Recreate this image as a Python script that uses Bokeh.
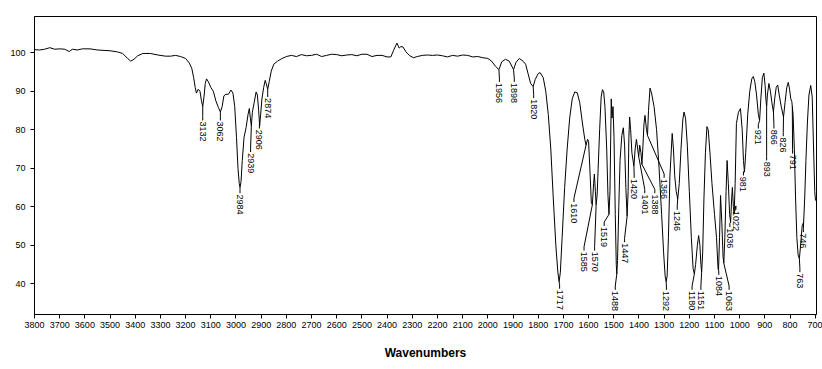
import numpy as np
from bokeh.plotting import figure
from bokeh.models import Range1d, FixedTicker, ColumnDataSource
from bokeh.core.properties import value
from bokeh.embed import file_html
from bokeh.resources import INLINE

# ---- spectrum data (wavenumber cm-1, %T) ----
wavenumber = [
    3800, 3780, 3760, 3739, 3720, 3700, 3680, 3662, 3650, 3630, 3610, 3580, 3550, 3500, 3470,
    3450, 3430, 3418, 3405, 3390, 3370, 3340, 3310, 3280, 3260, 3240, 3220, 3200, 3185, 3175,
    3168, 3162, 3157, 3150, 3143, 3137, 3132, 3127, 3122, 3117, 3110, 3100, 3090, 3080, 3070,
    3062, 3055, 3048, 3040, 3030, 3020, 3012, 3005, 2998, 2992, 2987, 2984, 2980, 2975, 2968,
    2960, 2952, 2947, 2943, 2939, 2935, 2928, 2920, 2915, 2910, 2906, 2902, 2897, 2890, 2884,
    2880, 2874, 2868, 2860, 2850, 2835, 2820, 2800, 2780, 2760, 2740, 2720, 2700, 2680, 2660,
    2640, 2620, 2600, 2580, 2560, 2540, 2520, 2500, 2480, 2460, 2440, 2420, 2400, 2385, 2375,
    2361, 2352, 2345, 2337, 2325, 2310, 2295, 2280, 2260, 2240, 2220, 2200, 2180, 2160, 2140,
    2120, 2100, 2080, 2060, 2040, 2020, 2000, 1985, 1970, 1956, 1945, 1930, 1915, 1898, 1888,
    1875, 1860, 1850, 1840, 1830, 1820, 1812, 1800, 1792, 1780, 1770, 1760, 1750, 1740, 1730,
    1722, 1717, 1712, 1705, 1695, 1685, 1675, 1665, 1655, 1645, 1635, 1625, 1615, 1610, 1604,
    1600, 1595, 1589, 1585, 1580, 1577, 1573, 1570, 1566, 1562, 1556, 1550, 1545, 1540, 1535,
    1528, 1523, 1519, 1515, 1510, 1507, 1503, 1499, 1494, 1490, 1488, 1485, 1480, 1475, 1468,
    1462, 1457, 1452, 1447, 1443, 1440, 1437, 1433, 1428, 1420, 1415, 1410, 1405, 1401, 1397,
    1392, 1388, 1384, 1380, 1376, 1370, 1366, 1362, 1356, 1350, 1340, 1330, 1320, 1310, 1302,
    1296, 1292, 1288, 1283, 1277, 1268, 1263, 1258, 1252, 1246, 1240, 1233, 1226, 1221, 1215,
    1208, 1200, 1192, 1185, 1180, 1175, 1168, 1163, 1158, 1154, 1151, 1147, 1142, 1136, 1130,
    1125, 1118, 1110, 1100, 1092, 1086, 1084, 1080, 1076, 1071, 1066, 1063, 1059, 1054, 1050,
    1045, 1040, 1036, 1032, 1029, 1025, 1022, 1018, 1013, 1005, 997, 990, 985, 981, 976,
    968, 960, 952, 946, 940, 933, 926, 921, 916, 910, 904, 899, 896, 893, 890,
    884, 878, 872, 866, 861, 855, 849, 843, 835, 826, 820, 813, 807, 802, 797,
    793, 788, 783, 778, 773, 768, 763, 758, 752, 746, 742, 737, 731, 725, 718,
    712, 707, 702, 699,
]
transmittance = [
    100.8, 100.7, 100.9, 101.3, 100.9, 101.0, 100.9, 100.3, 100.9, 100.7, 101.0, 101.0, 100.7, 100.5, 100.2,
    99.8, 98.5, 97.8, 98.3, 99.2, 99.8, 99.8, 99.4, 99.1, 99.1, 99.3, 99.0, 98.5, 97.3, 95.8,
    93.5, 91.0, 89.5, 90.5, 90.0, 87.5, 86.0, 88.5, 92.0, 93.2, 92.5, 91.0, 90.0, 87.5, 85.8,
    84.6, 86.0, 88.8, 89.2, 89.2, 90.3, 89.5, 86.0, 78.0, 70.0, 66.0, 65.0, 66.5, 72.0, 78.0,
    80.5, 84.0, 85.5, 83.0, 81.0, 84.5, 87.0, 89.8, 89.0, 85.0, 81.0, 84.0, 88.0, 91.0, 92.8,
    92.0, 90.5, 92.5, 95.2, 97.0, 97.8, 98.4, 99.0, 99.3, 99.0, 99.5, 99.2, 99.3, 99.6, 99.0,
    99.3, 99.6, 99.5, 99.2, 99.4, 99.5, 99.2, 99.6, 99.6, 99.0, 99.3, 99.3, 98.9, 98.9, 100.5,
    102.5, 101.2, 101.6, 101.5, 100.2, 99.2, 98.7, 99.0, 99.3, 99.4, 99.3, 99.4, 99.2, 98.9, 99.3,
    99.1, 99.4, 99.3, 98.9, 99.0, 98.7, 98.5, 97.8, 96.5, 95.6, 97.6, 98.3, 97.8, 95.6, 97.5,
    98.5, 97.8, 97.0, 94.5, 92.0, 91.2, 93.0, 94.6, 94.8, 93.5, 90.0, 84.0, 75.0, 62.0, 50.0,
    43.0, 40.5, 43.0, 52.0, 65.0, 75.0, 83.0, 88.0, 89.8, 89.6, 87.0, 82.0, 77.5, 76.0, 77.5,
    77.0, 70.0, 61.0, 60.5, 66.0, 68.5, 64.0, 60.5, 63.0, 70.0, 80.0, 88.5, 90.4, 89.8, 86.0,
    75.0, 63.0, 58.0, 64.0, 88.0, 83.0, 86.0, 78.0, 58.0, 45.0, 42.5, 46.0, 60.0, 72.0, 78.5,
    80.5, 76.0, 65.0, 57.5, 64.0, 78.0, 83.3, 80.0, 74.0, 70.5, 75.0, 77.5, 75.0, 73.0, 76.0,
    74.0, 71.0, 76.0, 81.5, 83.7, 80.0, 78.5, 85.0, 90.8, 89.5, 86.0, 80.0, 70.0, 58.0, 48.0,
    42.0, 40.5, 42.0, 52.0, 68.0, 79.0, 75.0, 68.0, 64.0, 62.0, 66.0, 75.0, 82.5, 84.6, 83.0,
    76.0, 64.0, 52.0, 44.0, 42.5, 45.0, 50.0, 52.5, 50.0, 45.0, 43.0, 48.0, 62.0, 74.0, 80.8,
    80.0, 74.0, 66.0, 58.0, 52.0, 44.0, 43.5, 52.0, 62.9, 56.0, 47.0, 45.3, 52.0, 64.0, 72.0,
    66.0, 58.0, 56.0, 62.0, 65.0, 60.0, 58.2, 66.0, 81.6, 84.5, 85.5, 80.0, 72.0, 69.0, 74.0,
    84.0, 90.0, 93.2, 93.8, 92.5, 89.0, 84.0, 82.4, 88.0, 93.5, 94.7, 91.5, 88.0, 86.0, 89.0,
    92.0, 90.0, 87.0, 84.6, 88.0, 91.0, 91.6, 89.0, 86.0, 83.3, 87.0, 91.0, 92.3, 90.5, 88.0,
    87.3, 84.0, 75.0, 62.0, 52.0, 47.5, 46.5, 50.0, 55.0, 56.0, 62.0, 72.0, 82.0, 89.0, 91.5,
    88.5, 76.0, 64.0, 61.6,
]

# ---- peak annotations ----
peak_labels = [3132, 3062, 2984, 2939, 2906, 2874, 1956, 1898, 1820, 1717, 1610, 1585, 1570,
               1519, 1488, 1447, 1420, 1401, 1388, 1366, 1292, 1246, 1180, 1151, 1084, 1063,
               1036, 1022, 981, 921, 893, 866, 826, 791, 763, 746]
# label anchor (layout): wavenumber of label column, %T where the text starts
label_x = [3132, 3062, 2984, 2942, 2907, 2874, 1954, 1895, 1818, 1715, 1658, 1618, 1576,
           1538, 1494, 1457, 1419, 1377, 1337, 1300, 1291, 1248, 1189, 1154, 1083, 1042,
           1039, 1015, 985, 926, 893, 864, 827, 790, 761, 747]
label_y = [82.4, 82.4, 63.5, 74.2, 80.3, 88.5, 92.4, 92.4, 88.2, 38.7, 61.2, 48.6, 48.6,
           55.0, 38.4, 50.8, 67.5, 63.5, 63.5, 67.5, 38.4, 59.2, 38.4, 38.4, 42.3, 38.4,
           54.7, 59.2, 68.1, 80.3, 72.0, 80.3, 78.3, 73.8, 43.0, 53.4]

x_ticks = list(range(700, 3801, 100))
y_ticks = [40, 50, 60, 70, 80, 90, 100]

FONT = "Liberation Sans"

p = figure(width=822, height=369, output_backend="svg", toolbar_location=None,
           x_range=Range1d(3800, 695), y_range=Range1d(32, 109.4),
           min_border_left=34, min_border_right=6, min_border_top=16, min_border_bottom=55)

p.line(wavenumber, transmittance, line_color="black", line_width=1)

# leader lines from the curve to the label
peak_vals = np.interp(peak_labels, wavenumber[::-1], transmittance[::-1])
xs = [[b, lx, lx] for b, lx in zip(peak_labels, label_x)]
ys = [[v, ly + 1.0, ly] for v, ly in zip(peak_vals, label_y)]
p.multi_line(xs, ys, line_color="black", line_width=1)

src = ColumnDataSource(dict(x=label_x, y=[ly - 0.3 for ly in label_y],
                            t=[str(v) for v in peak_labels]))
p.text(x="x", y="y", text="t", source=src, angle=-np.pi / 2,
       text_align="left", text_baseline="middle",
       text_font=value(FONT), text_font_size=value("9px"), text_color="black")

p.xgrid.visible = False
p.ygrid.visible = False
p.outline_line_color = "black"
p.outline_line_width = 1

for ax in (p.xaxis[0], p.yaxis[0]):
    ax.axis_line_color = "black"
    ax.major_tick_line_color = "black"
    ax.major_tick_in = 0
    ax.major_tick_out = 4
    ax.minor_tick_line_color = None
    ax.major_label_text_font = FONT
    ax.major_label_text_font_size = "9px"
    ax.major_label_text_color = "black"
    ax.major_label_standoff = 3

p.yaxis.major_label_standoff = 5
p.xaxis.ticker = FixedTicker(ticks=x_ticks)
p.yaxis.ticker = FixedTicker(ticks=y_ticks)
p.xaxis.axis_label = "Wavenumbers"
p.xaxis.axis_label_text_font = FONT
p.xaxis.axis_label_text_font_size = "12px"
p.xaxis.axis_label_text_font_style = "bold"
p.xaxis.axis_label_text_color = "black"
p.xaxis.axis_label_standoff = 15

open("out.html", "w").write(file_html(p, INLINE))
